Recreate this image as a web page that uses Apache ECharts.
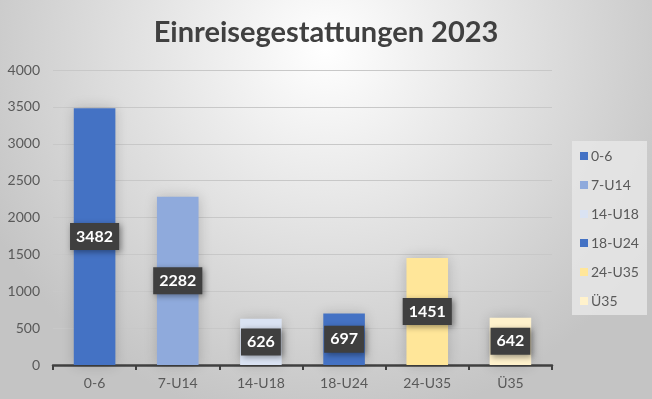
<!DOCTYPE html>
<html>
<head>
<meta charset="utf-8">
<script src="https://cdn.jsdelivr.net/npm/echarts@6/dist/echarts.min.js"></script>
<style>
  html, body { margin: 0; padding: 0; }
  #chart { width: 652px; height: 399px; }
</style>
</head>
<body>
<div id="chart"></div>
<script>
// Daten
var categories = ['0-6', '7-U14', '14-U18', '18-U24', '24-U35', 'Ü35'];
var values = [3482, 2282, 626, 697, 1451, 642];
var barColors = ['#4472C4', '#8FAADC', '#DAE3F3', '#4472C4', '#FFE699', '#FFF2CC'];
var yTicks = [0, 500, 1000, 1500, 2000, 2500, 3000, 3500, 4000];

var fontFamily = 'Lato, "Open Sans", sans-serif';

// eine Serie pro Kategorie, damit die Legende jede Kategorie zeigt
var series = categories.map(function (name, i) {
  return {
    name: name,
    type: 'bar',
    stack: 'all',
    barWidth: '50%',
    itemStyle: {
      color: barColors[i],
      shadowBlur: 12,
      shadowColor: 'rgba(0,0,0,0.18)'
    },
    label: {
      show: true,
      position: 'inside',
      color: '#fff',
      fontFamily: fontFamily,
      fontWeight: 'bold',
      fontSize: 16,
      backgroundColor: '#3f3f3f',
      padding: [6, 6, 5, 6],
      shadowBlur: 6,
      shadowColor: 'rgba(0,0,0,0.4)',
      shadowOffsetX: 2,
      shadowOffsetY: 2
    },
    data: categories.map(function (c, j) { return j === i ? values[i] : '-'; })
  };
});

var chart = echarts.init(document.getElementById('chart'));
chart.setOption({
  animation: false,
  backgroundColor: {
    type: 'radial', x: 0.5, y: 0.12, r: 0.95,
    colorStops: [
      { offset: 0, color: '#ffffff' },
      { offset: 1, color: '#c4c4c4' }
    ]
  },
  title: {
    text: 'Einreisegestattungen 2023',
    left: 'center',
    top: 13,
    textStyle: {
      fontFamily: fontFamily,
      fontWeight: 'bold',
      fontSize: 29,
      color: '#404040'
    }
  },
  legend: {
    orient: 'vertical',
    left: 572,
    top: 141,
    width: 74,
    height: 176,
    padding: [8, 8, 7, 8],
    itemGap: 15,
    itemWidth: 8,
    itemHeight: 8,
    icon: 'rect',
    backgroundColor: 'rgba(230,230,230,0.85)',
    textStyle: { fontFamily: fontFamily, fontSize: 14, color: '#595959', padding: [0, 0, 0, -2] },
    data: categories
  },
  grid: { left: 53, right: 100, top: 70, bottom: 34 },
  xAxis: {
    type: 'category',
    data: categories,
    axisLine: { lineStyle: { color: '#404040', width: 2.5 } },
    axisTick: { show: true, length: 5, lineStyle: { color: '#404040', width: 2 } },
    axisLabel: { fontFamily: fontFamily, fontSize: 14, color: '#595959', margin: 11 }
  },
  yAxis: {
    type: 'value',
    min: yTicks[0],
    max: yTicks[yTicks.length - 1],
    interval: 500,
    axisLine: { show: false },
    axisTick: { show: false },
    splitLine: { lineStyle: { color: '#c8c8c8', width: 1 } },
    axisLabel: {
      fontFamily: fontFamily, fontSize: 14, color: '#595959', margin: 13,
      formatter: function (v) { return String(v); }
    }
  },
  series: series
});
</script>
</body>
</html>
